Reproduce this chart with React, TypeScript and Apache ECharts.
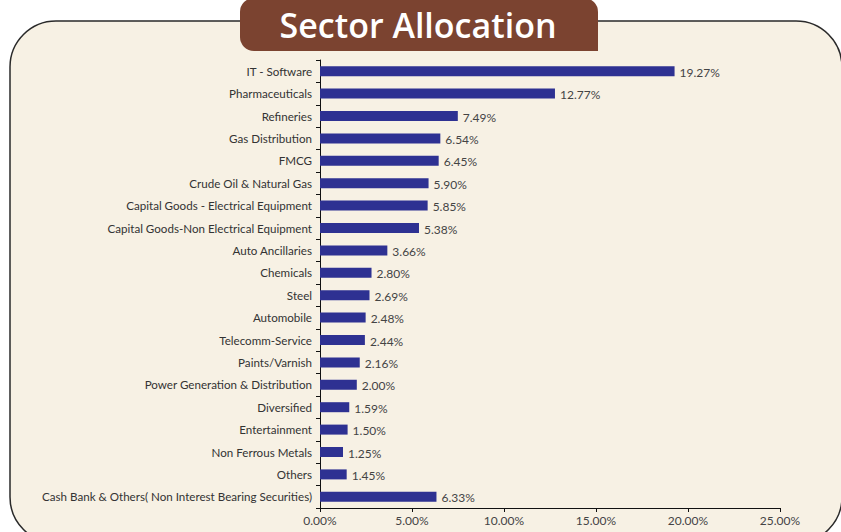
import React, { useEffect, useRef } from "react";
import * as echarts from "echarts";

const categories = [
  "IT - Software",
  "Pharmaceuticals",
  "Refineries",
  "Gas Distribution",
  "FMCG",
  "Crude Oil & Natural Gas",
  "Capital Goods - Electrical Equipment",
  "Capital Goods-Non Electrical Equipment",
  "Auto Ancillaries",
  "Chemicals",
  "Steel",
  "Automobile",
  "Telecomm-Service",
  "Paints/Varnish",
  "Power Generation & Distribution",
  "Diversified",
  "Entertainment",
  "Non Ferrous Metals",
  "Others",
  "Cash Bank & Others( Non Interest Bearing Securities)",
];

const allocation = [
  19.27, 12.77, 7.49, 6.54, 6.45, 5.9, 5.85, 5.38, 3.66, 2.8, 2.69, 2.48, 2.44,
  2.16, 2.0, 1.59, 1.5, 1.25, 1.45, 6.33,
];

const xTicks = { min: 0, max: 25, interval: 5 };

const FONT = "Lato, 'Open Sans', sans-serif";

export default function App() {
  const ref = useRef<HTMLDivElement>(null);
  useEffect(() => {
    document.body.style.margin = "0";
    const chart = echarts.init(ref.current!, null, { renderer: "svg" });
    chart.setOption({
      animation: false,
      backgroundColor: "#ffffff",
      graphic: [
        {
          type: "rect",
          z: -10,
          shape: { x: 10, y: 21, width: 832, height: 522, r: 46 },
          style: { fill: "#f7f1e4", stroke: "#2a2a2a", lineWidth: 1.5 },
        },
        {
          type: "rect",
          z: -5,
          shape: { x: 240, y: -2, width: 358, height: 53, r: [14, 14, 0, 14] },
          style: { fill: "#7b4330" },
        },
        {
          type: "text",
          z: -4,
          x: 418,
          y: 25,
          style: {
            text: "Sector Allocation",
            fill: "#ffffff",
            font: `600 34px 'Open Sans', sans-serif`,
            textAlign: "center",
            textVerticalAlign: "middle",
          },
        },
      ],
      grid: { left: 320, right: 61, top: 60, bottom: 24, containLabel: false },
      xAxis: {
        type: "value",
        min: xTicks.min,
        max: xTicks.max,
        interval: xTicks.interval,
        splitLine: { show: false },
        axisLine: { show: true, lineStyle: { color: "#111", width: 1 } },
        axisTick: { show: true, length: 4, lineStyle: { color: "#111" } },
        axisLabel: {
          color: "#444",
          fontFamily: FONT,
          fontSize: 12,
          margin: 6,
          formatter: (v: number) => v.toFixed(2) + "%",
        },
      },
      yAxis: {
        type: "category",
        data: categories,
        inverse: true,
        axisLine: { show: true, lineStyle: { color: "#111", width: 1 } },
        axisTick: { show: true, length: 4, lineStyle: { color: "#111" } },
        axisLabel: {
          color: "#333",
          fontFamily: FONT,
          fontSize: 11.6,
          margin: 8,
          padding: [0, 0, 3, 0],
        },
      },
      series: [
        {
          type: "bar",
          data: allocation,
          barWidth: 10,
          itemStyle: { color: "#2e3192" },
          label: {
            show: true,
            position: "right",
            distance: 5,
            color: "#444",
            fontFamily: FONT,
            fontSize: 12,
            offset: [0, 1],
            formatter: (p: any) => Number(p.value).toFixed(2) + "%",
          },
        },
      ],
    });
    return () => chart.dispose();
  }, []);
  return <div ref={ref} style={{ width: 841, height: 532 }} />;
}
